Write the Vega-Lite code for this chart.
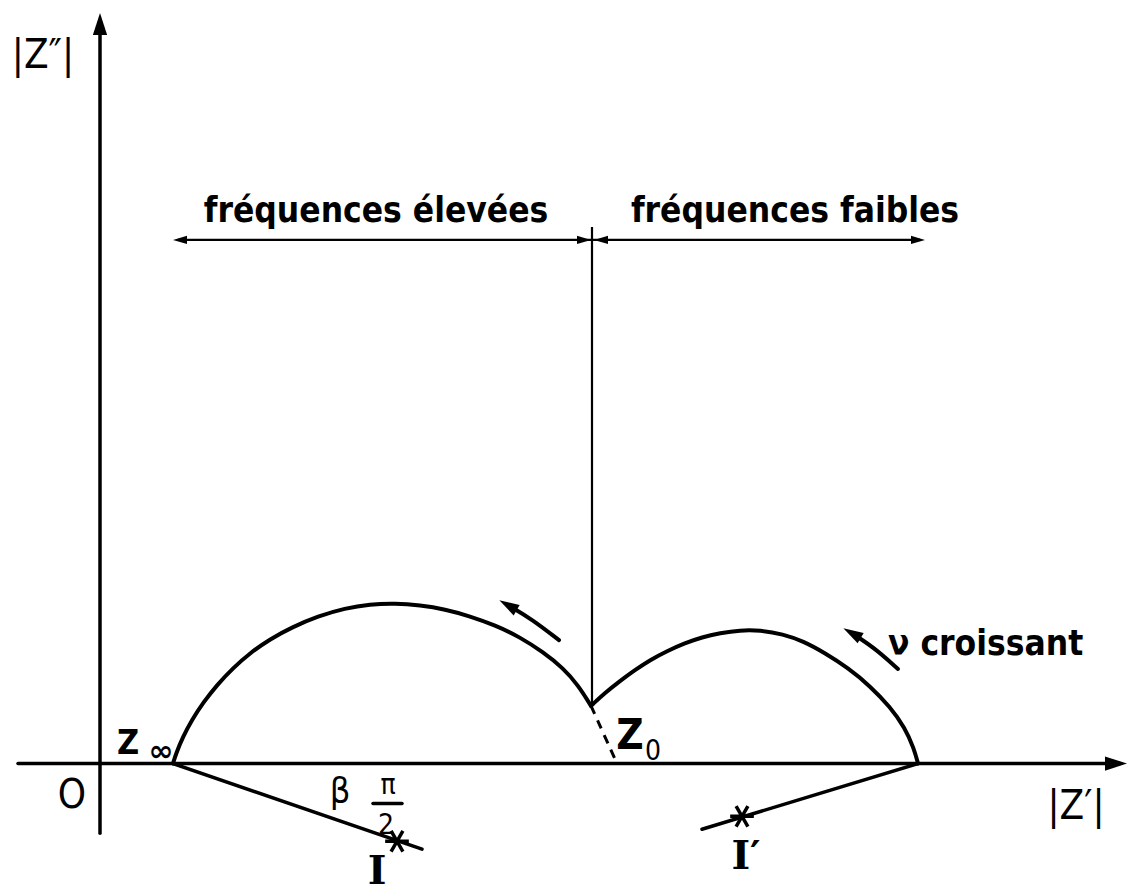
{
  "$schema": "https://vega.github.io/schema/vega-lite/v6.json",
  "width": 1129,
  "height": 892,
  "padding": 0,
  "autosize": {"type": "fit", "contains": "padding"},
  "background": "white",
  "config": {"view": {"stroke": null}},
  "data": {"values": [
    {"kind": "thick", "id": "vaxis", "o": 0, "x": 0, "y": -70},
    {"kind": "thick", "id": "vaxis", "o": 1, "x": 0, "y": 745},
    {"kind": "thick", "id": "haxis", "o": 0, "x": -82, "y": 0},
    {"kind": "thick", "id": "haxis", "o": 1, "x": 1020, "y": 0},
    {"kind": "thick", "id": "lineI", "o": 0, "x": 73, "y": 0},
    {"kind": "thick", "id": "lineI", "o": 1, "x": 322, "y": -86},
    {"kind": "thick", "id": "lineIp", "o": 0, "x": 818, "y": 0},
    {"kind": "thick", "id": "lineIp", "o": 1, "x": 602, "y": -66},
    {"kind": "thick", "id": "frac", "o": 0, "x": 273, "y": -40},
    {"kind": "thick", "id": "frac", "o": 1, "x": 302, "y": -40},
    {"kind": "thin", "id": "vline", "o": 0, "x": 492, "y": 58},
    {"kind": "thin", "id": "vline", "o": 1, "x": 492, "y": 539},
    {"kind": "thin", "id": "harrow", "o": 0, "x": 78, "y": 526},
    {"kind": "thin", "id": "harrow", "o": 1, "x": 820, "y": 526},
    {"kind": "curve", "id": "leftArc", "o": 0, "x": 73, "y": 0},
    {"kind": "curve", "id": "leftArc", "o": 1, "x": 76, "y": 10},
    {"kind": "curve", "id": "leftArc", "o": 2, "x": 83, "y": 27},
    {"kind": "curve", "id": "leftArc", "o": 3, "x": 92, "y": 44},
    {"kind": "curve", "id": "leftArc", "o": 4, "x": 103, "y": 61},
    {"kind": "curve", "id": "leftArc", "o": 5, "x": 117, "y": 79},
    {"kind": "curve", "id": "leftArc", "o": 6, "x": 133, "y": 96},
    {"kind": "curve", "id": "leftArc", "o": 7, "x": 150, "y": 111},
    {"kind": "curve", "id": "leftArc", "o": 8, "x": 170, "y": 125},
    {"kind": "curve", "id": "leftArc", "o": 9, "x": 192, "y": 137},
    {"kind": "curve", "id": "leftArc", "o": 10, "x": 218, "y": 148},
    {"kind": "curve", "id": "leftArc", "o": 11, "x": 245, "y": 156},
    {"kind": "curve", "id": "leftArc", "o": 12, "x": 270, "y": 160},
    {"kind": "curve", "id": "leftArc", "o": 13, "x": 295, "y": 161},
    {"kind": "curve", "id": "leftArc", "o": 14, "x": 320, "y": 159},
    {"kind": "curve", "id": "leftArc", "o": 15, "x": 345, "y": 155},
    {"kind": "curve", "id": "leftArc", "o": 16, "x": 370, "y": 148},
    {"kind": "curve", "id": "leftArc", "o": 17, "x": 395, "y": 139},
    {"kind": "curve", "id": "leftArc", "o": 18, "x": 420, "y": 127},
    {"kind": "curve", "id": "leftArc", "o": 19, "x": 443, "y": 112},
    {"kind": "curve", "id": "leftArc", "o": 20, "x": 463, "y": 96},
    {"kind": "curve", "id": "leftArc", "o": 21, "x": 478, "y": 79},
    {"kind": "curve", "id": "leftArc", "o": 22, "x": 491, "y": 58},
    {"kind": "curve", "id": "rightArc", "o": 0, "x": 491, "y": 58},
    {"kind": "curve", "id": "rightArc", "o": 1, "x": 505, "y": 71},
    {"kind": "curve", "id": "rightArc", "o": 2, "x": 520, "y": 83},
    {"kind": "curve", "id": "rightArc", "o": 3, "x": 535, "y": 94},
    {"kind": "curve", "id": "rightArc", "o": 4, "x": 550, "y": 104},
    {"kind": "curve", "id": "rightArc", "o": 5, "x": 567, "y": 113},
    {"kind": "curve", "id": "rightArc", "o": 6, "x": 585, "y": 121},
    {"kind": "curve", "id": "rightArc", "o": 7, "x": 602, "y": 127},
    {"kind": "curve", "id": "rightArc", "o": 8, "x": 620, "y": 131},
    {"kind": "curve", "id": "rightArc", "o": 9, "x": 640, "y": 134},
    {"kind": "curve", "id": "rightArc", "o": 10, "x": 660, "y": 134},
    {"kind": "curve", "id": "rightArc", "o": 11, "x": 683, "y": 130},
    {"kind": "curve", "id": "rightArc", "o": 12, "x": 703, "y": 123},
    {"kind": "curve", "id": "rightArc", "o": 13, "x": 725, "y": 111},
    {"kind": "curve", "id": "rightArc", "o": 14, "x": 748, "y": 96},
    {"kind": "curve", "id": "rightArc", "o": 15, "x": 770, "y": 78},
    {"kind": "curve", "id": "rightArc", "o": 16, "x": 790, "y": 57},
    {"kind": "curve", "id": "rightArc", "o": 17, "x": 805, "y": 36},
    {"kind": "curve", "id": "rightArc", "o": 18, "x": 814, "y": 15},
    {"kind": "curve", "id": "rightArc", "o": 19, "x": 818, "y": 0},
    {"kind": "curve", "id": "arrowL", "o": 0, "x": 459, "y": 124},
    {"kind": "curve", "id": "arrowL", "o": 1, "x": 432, "y": 145},
    {"kind": "curve", "id": "arrowL", "o": 2, "x": 410, "y": 158},
    {"kind": "curve", "id": "arrowNu", "o": 0, "x": 798, "y": 95},
    {"kind": "curve", "id": "arrowNu", "o": 1, "x": 776, "y": 115},
    {"kind": "curve", "id": "arrowNu", "o": 2, "x": 755, "y": 129},
    {"kind": "dash", "id": "ext", "o": 0, "x": 491, "y": 58},
    {"kind": "dash", "id": "ext", "o": 1, "x": 504, "y": 29},
    {"kind": "dash", "id": "ext", "o": 2, "x": 517, "y": 0},
    {"kind": "ahU", "x": 0, "y": 743},
    {"kind": "ahR", "x": 1016, "y": 0},
    {"kind": "asR", "x": 818, "y": 526},
    {"kind": "asR", "x": 484, "y": 526},
    {"kind": "asL", "x": 80, "y": 526},
    {"kind": "asL", "x": 501, "y": 526},
    {"kind": "aD", "x": 408, "y": 159},
    {"kind": "aD", "x": 752, "y": 131},
    {"kind": "star", "x": 297, "y": -78},
    {"kind": "star", "x": 642, "y": -53},
    {"kind": "tBig", "x": 276, "y": 544, "t": "fréquences élevées"},
    {"kind": "tBig", "x": 695, "y": 544, "t": "fréquences faibles"},
    {"kind": "tNu", "x": 788, "y": 109, "t": "ν croissant"},
    {"kind": "tAxis", "x": -57, "y": 699, "t": "|Z″|"},
    {"kind": "tAxis", "x": 976, "y": -56, "t": "|Z′|"},
    {"kind": "tAxis", "x": -28, "y": -45, "t": "O"},
    {"kind": "tZinf", "x": 28, "y": 10, "t": "Z"},
    {"kind": "tZ0", "x": 530, "y": 15, "t": "Z"},
    {"kind": "tInf", "x": 61, "y": 3, "t": "∞"},
    {"kind": "tSub", "x": 553, "y": 4, "t": "0"},
    {"kind": "tGreek", "x": 240, "y": -40, "t": "β"},
    {"kind": "tPi", "x": 288, "y": -31, "t": "π"},
    {"kind": "tPi", "x": 286, "y": -71, "t": "2"},
    {"kind": "tRoman", "x": 277, "y": -121, "t": "I"},
    {"kind": "tRoman", "x": 646, "y": -106, "t": "I′"}
  ]},
  "encoding": {
    "x": {"field": "x", "type": "quantitative", "scale": {"domain": [-100, 1029], "nice": false, "zero": false}, "axis": null},
    "y": {"field": "y", "type": "quantitative", "scale": {"domain": [-125, 767], "nice": false, "zero": false}, "axis": null}
  },
  "layer": [
    {"transform": [{"filter": "datum.kind == 'thick'"}], "mark": {"type": "line", "color": "black", "strokeWidth": 3.5, "strokeCap": "round"}, "encoding": {"detail": {"field": "id"}, "order": {"field": "o"}}},
    {"transform": [{"filter": "datum.kind == 'thin'"}], "mark": {"type": "line", "color": "black", "strokeWidth": 2.2, "strokeCap": "butt"}, "encoding": {"detail": {"field": "id"}, "order": {"field": "o"}}},
    {"transform": [{"filter": "datum.kind == 'curve'"}], "mark": {"type": "line", "color": "black", "strokeWidth": 4, "strokeCap": "round", "strokeJoin": "round", "interpolate": "basis"}, "encoding": {"detail": {"field": "id"}, "order": {"field": "o"}}},
    {"transform": [{"filter": "datum.kind == 'dash'"}], "mark": {"type": "line", "color": "black", "strokeWidth": 3, "strokeDash": [9, 7], "interpolate": "basis"}, "encoding": {"detail": {"field": "id"}, "order": {"field": "o"}}},
    {"transform": [{"filter": "datum.kind == 'ahU'"}], "mark": {"type": "point", "shape": "M0,-1L0.65,1L-0.65,1Z", "filled": true, "color": "black", "opacity": 1, "size": 484, "angle": 0}},
    {"transform": [{"filter": "datum.kind == 'ahR'"}], "mark": {"type": "point", "shape": "M0,-1L0.65,1L-0.65,1Z", "filled": true, "color": "black", "opacity": 1, "size": 484, "angle": 90}},
    {"transform": [{"filter": "datum.kind == 'asR'"}], "mark": {"type": "point", "shape": "M0,-1L0.6,1L-0.6,1Z", "filled": true, "color": "black", "opacity": 1, "size": 196, "angle": 90}},
    {"transform": [{"filter": "datum.kind == 'asL'"}], "mark": {"type": "point", "shape": "M0,-1L0.6,1L-0.6,1Z", "filled": true, "color": "black", "opacity": 1, "size": 196, "angle": 270}},
    {"transform": [{"filter": "datum.kind == 'aD'"}], "mark": {"type": "point", "shape": "M0,-1L0.6,1L-0.6,1Z", "filled": true, "color": "black", "opacity": 1, "size": 400, "angle": 300}},
    {"transform": [{"filter": "datum.kind == 'star'"}], "mark": {"type": "point", "shape": "M-1,0L1,0M-0.5,-0.87L0.5,0.87M-0.5,0.87L0.5,-0.87", "filled": false, "color": "black", "opacity": 1, "strokeWidth": 3.5, "size": 560}},
    {"transform": [{"filter": "datum.kind == 'tBig'"}], "mark": {"type": "text", "font": "DejaVu Sans Condensed", "fontSize": 35, "fontWeight": "bold", "align": "center", "baseline": "alphabetic", "color": "black"}, "encoding": {"text": {"field": "t"}}},
    {"transform": [{"filter": "datum.kind == 'tNu'"}], "mark": {"type": "text", "font": "DejaVu Sans Condensed", "fontSize": 35, "fontWeight": "bold", "align": "left", "baseline": "alphabetic", "color": "black"}, "encoding": {"text": {"field": "t"}}},
    {"transform": [{"filter": "datum.kind == 'tAxis'"}], "mark": {"type": "text", "font": "DejaVu Sans Condensed", "fontSize": 40, "align": "center", "baseline": "alphabetic", "color": "black"}, "encoding": {"text": {"field": "t"}}},
    {"transform": [{"filter": "datum.kind == 'tZinf'"}], "mark": {"type": "text", "font": "DejaVu Sans Condensed", "fontSize": 34, "fontWeight": "bold", "align": "center", "baseline": "alphabetic", "color": "black"}, "encoding": {"text": {"field": "t"}}},
    {"transform": [{"filter": "datum.kind == 'tZ0'"}], "mark": {"type": "text", "font": "DejaVu Sans Condensed", "fontSize": 42, "fontWeight": "bold", "align": "center", "baseline": "alphabetic", "color": "black"}, "encoding": {"text": {"field": "t"}}},
    {"transform": [{"filter": "datum.kind == 'tInf'"}], "mark": {"type": "text", "font": "DejaVu Sans", "fontSize": 30, "fontWeight": "bold", "align": "center", "baseline": "alphabetic", "color": "black"}, "encoding": {"text": {"field": "t"}}},
    {"transform": [{"filter": "datum.kind == 'tSub'"}], "mark": {"type": "text", "font": "DejaVu Sans Condensed", "fontSize": 28, "align": "center", "baseline": "alphabetic", "color": "black"}, "encoding": {"text": {"field": "t"}}},
    {"transform": [{"filter": "datum.kind == 'tGreek'"}], "mark": {"type": "text", "font": "DejaVu Sans Condensed", "fontSize": 36, "align": "center", "baseline": "alphabetic", "color": "black"}, "encoding": {"text": {"field": "t"}}},
    {"transform": [{"filter": "datum.kind == 'tPi'"}], "mark": {"type": "text", "font": "DejaVu Sans Condensed", "fontSize": 28, "align": "center", "baseline": "alphabetic", "color": "black"}, "encoding": {"text": {"field": "t"}}},
    {"transform": [{"filter": "datum.kind == 'tRoman'"}], "mark": {"type": "text", "font": "DejaVu Serif", "fontSize": 40, "fontWeight": "bold", "align": "center", "baseline": "alphabetic", "color": "black"}, "encoding": {"text": {"field": "t"}}}
  ]
}
